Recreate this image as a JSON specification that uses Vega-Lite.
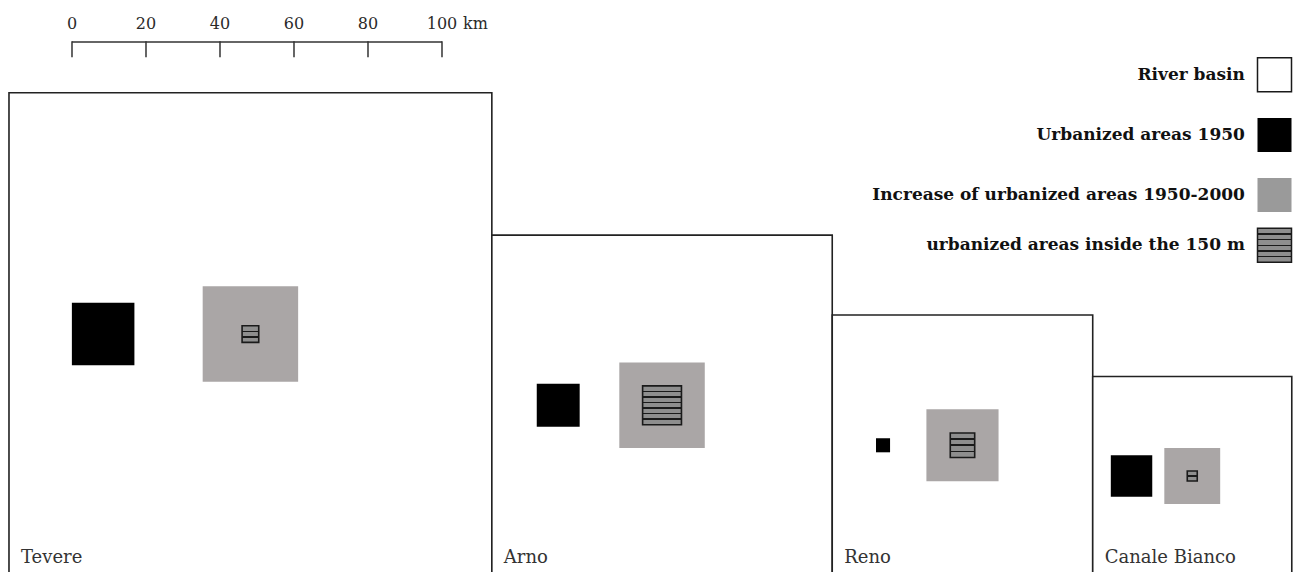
{
  "$schema": "https://vega.github.io/schema/vega-lite/v6.json",
  "width": 1293,
  "height": 572,
  "autosize": {"type": "none"},
  "padding": 0,
  "background": "white",
  "config": {"view": {"stroke": null}},
  "resolve": {"scale": {"y": "independent"}},
  "layer": [
    {
      "data": {"values": [
        {"order": 1, "basin": "Tevere", "basin_km": 130.5, "urban1950_km": 16.9, "increase_km": 25.8, "inside150_km": 4.5},
        {"order": 2, "basin": "Arno", "basin_km": 92.0, "urban1950_km": 11.6, "increase_km": 23.1, "inside150_km": 10.5},
        {"order": 3, "basin": "Reno", "basin_km": 70.4, "urban1950_km": 3.8, "increase_km": 19.5, "inside150_km": 6.6},
        {"order": 4, "basin": "Canale Bianco", "basin_km": 53.8, "urban1950_km": 11.2, "increase_km": 15.1, "inside150_km": 2.7}
      ]},
      "transform": [
        {"window": [{"op": "sum", "field": "basin_km", "as": "cum"}], "sort": [{"field": "order"}], "frame": [null, 0]},
        {"calculate": "datum.cum - datum.basin_km - 17.03", "as": "left"},
        {"calculate": "datum.left + datum.basin_km", "as": "right"},
        {"calculate": "datum.basin_km / 2", "as": "cy"},
        {"calculate": "datum.left + 0.195 * datum.basin_km", "as": "bx"},
        {"calculate": "datum.left + 0.5 * datum.basin_km", "as": "gx"},
        {"calculate": "datum.bx - datum.urban1950_km / 2", "as": "b0"},
        {"calculate": "datum.bx + datum.urban1950_km / 2", "as": "b1"},
        {"calculate": "datum.cy - datum.urban1950_km / 2", "as": "by0"},
        {"calculate": "datum.cy + datum.urban1950_km / 2", "as": "by1"},
        {"calculate": "datum.gx - datum.increase_km / 2", "as": "g0"},
        {"calculate": "datum.gx + datum.increase_km / 2", "as": "g1"},
        {"calculate": "datum.cy - datum.increase_km / 2", "as": "gy0"},
        {"calculate": "datum.cy + datum.increase_km / 2", "as": "gy1"},
        {"calculate": "datum.gx - datum.inside150_km / 2", "as": "h0"},
        {"calculate": "datum.gx + datum.inside150_km / 2", "as": "h1"},
        {"calculate": "datum.cy - datum.inside150_km / 2", "as": "hy0"},
        {"calculate": "datum.cy + datum.inside150_km / 2", "as": "hy1"}
      ],
      "layer": [
        {
          "mark": {"type": "rect", "fill": "white", "stroke": "#222222", "strokeWidth": 1.6},
          "encoding": {
            "x": {"field": "left", "type": "quantitative", "scale": {"domain": [-19.459, 330], "nice": false, "zero": false}, "axis": null},
            "x2": {"field": "right"},
            "y": {"field": "basin_km", "type": "quantitative", "scale": {"domain": [0.95, 155.55], "nice": false, "zero": false}, "axis": null},
            "y2": {"datum": 0}
          }
        },
        {
          "mark": {"type": "rect", "fill": "#000000"},
          "encoding": {
            "x": {"field": "b0", "type": "quantitative", "scale": {"domain": [-19.459, 330], "nice": false, "zero": false}, "axis": null},
            "x2": {"field": "b1"},
            "y": {"field": "by0", "type": "quantitative", "scale": {"domain": [0.95, 155.55], "nice": false, "zero": false}, "axis": null},
            "y2": {"field": "by1"}
          }
        },
        {
          "mark": {"type": "rect", "fill": "#aaa6a6"},
          "encoding": {
            "x": {"field": "g0", "type": "quantitative", "scale": {"domain": [-19.459, 330], "nice": false, "zero": false}, "axis": null},
            "x2": {"field": "g1"},
            "y": {"field": "gy0", "type": "quantitative", "scale": {"domain": [0.95, 155.55], "nice": false, "zero": false}, "axis": null},
            "y2": {"field": "gy1"}
          }
        },
        {
          "mark": {"type": "rect", "stroke": "#1a1a1a", "strokeWidth": 1.6},
          "encoding": {
            "x": {"field": "h0", "type": "quantitative", "scale": {"domain": [-19.459, 330], "nice": false, "zero": false}, "axis": null},
            "x2": {"field": "h1"},
            "y": {"field": "hy0", "type": "quantitative", "scale": {"domain": [0.95, 155.55], "nice": false, "zero": false}, "axis": null},
            "y2": {"field": "hy1"},
            "fill": {
              "condition": [
                {"test": "datum.basin === 'Tevere'", "value": {"gradient": "linear", "x1": 0, "y1": 0, "x2": 0, "y2": 1, "stops": [
                  {"offset": 0, "color": "#8e8e8e"}, {"offset": 0.285, "color": "#8e8e8e"}, {"offset": 0.285, "color": "#1a1a1a"}, {"offset": 0.381, "color": "#1a1a1a"}, {"offset": 0.381, "color": "#8e8e8e"},
                  {"offset": 0.619, "color": "#8e8e8e"}, {"offset": 0.619, "color": "#1a1a1a"}, {"offset": 0.715, "color": "#1a1a1a"}, {"offset": 0.715, "color": "#8e8e8e"}, {"offset": 1, "color": "#8e8e8e"}]}},
                {"test": "datum.basin === 'Arno'", "value": {"gradient": "linear", "x1": 0, "y1": 0, "x2": 0, "y2": 1, "stops": [
                  {"offset": 0, "color": "#8e8e8e"}, {"offset": 0.122, "color": "#8e8e8e"}, {"offset": 0.122, "color": "#1a1a1a"}, {"offset": 0.163, "color": "#1a1a1a"}, {"offset": 0.163, "color": "#8e8e8e"},
                  {"offset": 0.265, "color": "#8e8e8e"}, {"offset": 0.265, "color": "#1a1a1a"}, {"offset": 0.306, "color": "#1a1a1a"}, {"offset": 0.306, "color": "#8e8e8e"},
                  {"offset": 0.408, "color": "#8e8e8e"}, {"offset": 0.408, "color": "#1a1a1a"}, {"offset": 0.449, "color": "#1a1a1a"}, {"offset": 0.449, "color": "#8e8e8e"},
                  {"offset": 0.551, "color": "#8e8e8e"}, {"offset": 0.551, "color": "#1a1a1a"}, {"offset": 0.592, "color": "#1a1a1a"}, {"offset": 0.592, "color": "#8e8e8e"},
                  {"offset": 0.694, "color": "#8e8e8e"}, {"offset": 0.694, "color": "#1a1a1a"}, {"offset": 0.735, "color": "#1a1a1a"}, {"offset": 0.735, "color": "#8e8e8e"},
                  {"offset": 0.837, "color": "#8e8e8e"}, {"offset": 0.837, "color": "#1a1a1a"}, {"offset": 0.878, "color": "#1a1a1a"}, {"offset": 0.878, "color": "#8e8e8e"}, {"offset": 1, "color": "#8e8e8e"}]}},
                {"test": "datum.basin === 'Reno'", "value": {"gradient": "linear", "x1": 0, "y1": 0, "x2": 0, "y2": 1, "stops": [
                  {"offset": 0, "color": "#8e8e8e"}, {"offset": 0.217, "color": "#8e8e8e"}, {"offset": 0.217, "color": "#1a1a1a"}, {"offset": 0.283, "color": "#1a1a1a"}, {"offset": 0.283, "color": "#8e8e8e"},
                  {"offset": 0.467, "color": "#8e8e8e"}, {"offset": 0.467, "color": "#1a1a1a"}, {"offset": 0.533, "color": "#1a1a1a"}, {"offset": 0.533, "color": "#8e8e8e"},
                  {"offset": 0.717, "color": "#8e8e8e"}, {"offset": 0.717, "color": "#1a1a1a"}, {"offset": 0.783, "color": "#1a1a1a"}, {"offset": 0.783, "color": "#8e8e8e"}, {"offset": 1, "color": "#8e8e8e"}]}}
              ],
              "value": {"gradient": "linear", "x1": 0, "y1": 0, "x2": 0, "y2": 1, "stops": [
                {"offset": 0, "color": "#8e8e8e"}, {"offset": 0.42, "color": "#8e8e8e"}, {"offset": 0.42, "color": "#1a1a1a"}, {"offset": 0.58, "color": "#1a1a1a"}, {"offset": 0.58, "color": "#8e8e8e"}, {"offset": 1, "color": "#8e8e8e"}]}
            }
          }
        },
        {
          "mark": {"type": "text", "align": "left", "baseline": "alphabetic", "dx": 12, "font": "DejaVu Serif", "fontSize": 18, "fill": "#333333"},
          "encoding": {
            "x": {"field": "left", "type": "quantitative", "scale": {"domain": [-19.459, 330], "nice": false, "zero": false}, "axis": null},
            "y": {"datum": 3.4, "type": "quantitative", "scale": {"domain": [0.95, 155.55], "nice": false, "zero": false}, "axis": null},
            "text": {"field": "basin"}
          }
        }
      ]
    },
    {
      "data": {"values": [
        {"tick": 0, "label": "0"}, {"tick": 20, "label": "20"}, {"tick": 40, "label": "40"},
        {"tick": 60, "label": "60"}, {"tick": 80, "label": "80"}, {"tick": 100, "label": "100"}
      ]},
      "layer": [
        {
          "transform": [{"filter": "datum.tick === 0"}],
          "mark": {"type": "rule", "stroke": "#333333", "strokeWidth": 1.5},
          "encoding": {
            "x": {"datum": 0, "type": "quantitative", "scale": {"domain": [-19.459, 330], "nice": false, "zero": false}, "axis": null},
            "x2": {"datum": 100},
            "y": {"datum": 144.2, "type": "quantitative", "scale": {"domain": [0.95, 155.55], "nice": false, "zero": false}, "axis": null}
          }
        },
        {
          "mark": {"type": "rule", "stroke": "#333333", "strokeWidth": 1.5},
          "encoding": {
            "x": {"field": "tick", "type": "quantitative", "scale": {"domain": [-19.459, 330], "nice": false, "zero": false}, "axis": null},
            "y": {"datum": 144.4, "type": "quantitative", "scale": {"domain": [0.95, 155.55], "nice": false, "zero": false}, "axis": null},
            "y2": {"datum": 140.1}
          }
        },
        {
          "mark": {"type": "text", "align": "center", "baseline": "alphabetic", "font": "DejaVu Serif", "fontSize": 16, "fill": "#2a2a2a"},
          "encoding": {
            "x": {"field": "tick", "type": "quantitative", "scale": {"domain": [-19.459, 330], "nice": false, "zero": false}, "axis": null},
            "y": {"datum": 147.7, "type": "quantitative", "scale": {"domain": [0.95, 155.55], "nice": false, "zero": false}, "axis": null},
            "text": {"field": "label"}
          }
        },
        {
          "transform": [{"filter": "datum.tick === 100"}],
          "mark": {"type": "text", "align": "left", "baseline": "alphabetic", "dx": 21, "font": "DejaVu Serif", "fontSize": 16, "fill": "#2a2a2a", "text": "km"},
          "encoding": {
            "x": {"field": "tick", "type": "quantitative", "scale": {"domain": [-19.459, 330], "nice": false, "zero": false}, "axis": null},
            "y": {"datum": 147.7, "type": "quantitative", "scale": {"domain": [0.95, 155.55], "nice": false, "zero": false}, "axis": null}
          }
        }
      ]
    },
    {
      "data": {"values": [
        {"label": "River basin"},
        {"label": "Urbanized areas 1950"},
        {"label": "Increase of urbanized areas 1950-2000"},
        {"label": "urbanized areas inside the 150 m"}
      ]},
      "layer": [
        {
          "mark": {"type": "point", "shape": "square", "size": 1156, "filled": true, "opacity": 1, "strokeWidth": 1.5},
          "encoding": {
            "x": {"datum": 325.0, "type": "quantitative", "scale": {"domain": [-19.459, 330], "nice": false, "zero": false}, "axis": null},
            "y": {"field": "label", "type": "nominal", "axis": null, "scale": {"type": "point", "padding": 0, "range": [74.7, 245.3], "domain": ["River basin", "s1", "s2", "s3", "s4", "s5", "Urbanized areas 1950", "s7", "s8", "s9", "s10", "s11", "Increase of urbanized areas 1950-2000", "s13", "s14", "s15", "s16", "urbanized areas inside the 150 m"]}},
            "fill": {
              "condition": [
                {"test": "datum.label === 'River basin'", "value": "#ffffff"},
                {"test": "datum.label === 'Urbanized areas 1950'", "value": "#000000"},
                {"test": "datum.label === 'Increase of urbanized areas 1950-2000'", "value": "#9a9a9a"}
              ],
              "value": {"gradient": "linear", "x1": 0, "y1": 0, "x2": 0, "y2": 1, "stops": [
                {"offset": 0, "color": "#8e8e8e"}, {"offset": 0.143, "color": "#8e8e8e"}, {"offset": 0.143, "color": "#1a1a1a"}, {"offset": 0.19, "color": "#1a1a1a"}, {"offset": 0.19, "color": "#8e8e8e"},
                {"offset": 0.31, "color": "#8e8e8e"}, {"offset": 0.31, "color": "#1a1a1a"}, {"offset": 0.357, "color": "#1a1a1a"}, {"offset": 0.357, "color": "#8e8e8e"},
                {"offset": 0.477, "color": "#8e8e8e"}, {"offset": 0.477, "color": "#1a1a1a"}, {"offset": 0.523, "color": "#1a1a1a"}, {"offset": 0.523, "color": "#8e8e8e"},
                {"offset": 0.643, "color": "#8e8e8e"}, {"offset": 0.643, "color": "#1a1a1a"}, {"offset": 0.69, "color": "#1a1a1a"}, {"offset": 0.69, "color": "#8e8e8e"},
                {"offset": 0.81, "color": "#8e8e8e"}, {"offset": 0.81, "color": "#1a1a1a"}, {"offset": 0.857, "color": "#1a1a1a"}, {"offset": 0.857, "color": "#8e8e8e"}, {"offset": 1, "color": "#8e8e8e"}]}
            },
            "stroke": {
              "condition": {"test": "datum.label === 'River basin' || datum.label === 'urbanized areas inside the 150 m'", "value": "#1a1a1a"},
              "value": "transparent"
            }
          }
        },
        {
          "mark": {"type": "text", "align": "right", "baseline": "middle", "font": "DejaVu Serif", "fontWeight": "bold", "fontSize": 17, "fill": "#111111"},
          "encoding": {
            "x": {"datum": 317.0, "type": "quantitative", "scale": {"domain": [-19.459, 330], "nice": false, "zero": false}, "axis": null},
            "y": {"field": "label", "type": "nominal", "axis": null, "scale": {"type": "point", "padding": 0, "range": [74.7, 245.3], "domain": ["River basin", "s1", "s2", "s3", "s4", "s5", "Urbanized areas 1950", "s7", "s8", "s9", "s10", "s11", "Increase of urbanized areas 1950-2000", "s13", "s14", "s15", "s16", "urbanized areas inside the 150 m"]}},
            "text": {"field": "label"}
          }
        }
      ]
    }
  ]
}
